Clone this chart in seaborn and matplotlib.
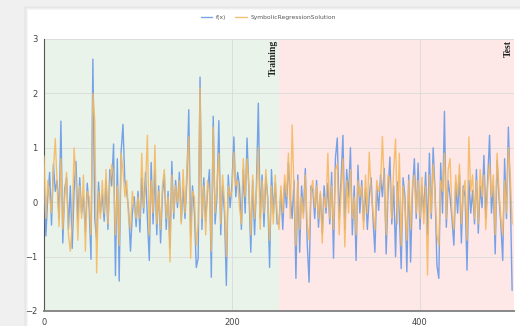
import numpy as np
import pandas as pd
import matplotlib
matplotlib.use("Agg")
import matplotlib.pyplot as plt
import seaborn as sns
from matplotlib.patches import Rectangle

# ---- data (step of 2 on the x index) ----
x_values = list(range(0, 500, 2))

fx = [
    0.35, -0.62, 0.1, 0.55, -0.42, 0.7, 0.2, 0.4, -0.3, 1.49, -0.75, 0.25, 0.45, -0.5, 0.3, -0.85, 0.2, 0.75, -0.35, 0.45, -0.2, 0.1, -0.55, 0.35, -0.1,
    -1.05, 2.63, -0.3, -0.7, 0.37, -0.2, 0.15, -0.35, 0.4, -0.5, 0.6, 0.3, 1.07, -1.35, 0.8, -1.45, 0.92, 1.43, 0.4, 0.2, -0.15, -0.9, -0.2, 0.1, -0.45,
    0.2, -0.55, 0.45, -0.2, 0.55, -0.3, -1.07, 0.73, -0.4, 0.6, -0.6, 0.3, -0.75, 0.15, 0.5, -0.5, 0.2, -0.85, 0.75, -0.3, 0.4, -0.1, 0.55, -0.35, 0.25,
    -0.3, 0.4, 1.7, -0.6, 0.3, -0.2, -1.2, -1.03, 2.3, -0.5, 0.45, -0.35, 0.2, 0.6, -1.38, 1.58, -0.4, 0.1, 1.5, -0.6, 0.3, -0.2, -1.53, 0.5, -0.1,
    0.35, 1.2, 0.1, 0.55, 0.3, -0.5, 0.6, -0.2, 1.18, 0.2, -0.92, 0.4, -0.6, 0.3, 1.82, -0.3, 0.5, -0.45, 0.46, 0.1, -1.2, 0.6, -0.2, 0.35, -0.4,
    -0.39, 0.2, -0.5, 0.35, -0.1, 0.73, 0.1, -0.3, 0.4, -1.4, 0.5, -0.92, 0.3, -0.2, 0.62, -0.75, -1.47, 0.3, 0.22, -0.3, 0.4, -0.46, 0.15, -0.57, 0.3,
    -0.2, 0.35, -0.4, 0.55, -1.03, 0.8, 1.18, -0.3, 0.4, 1.23, -0.5, 0.6, 0.1, 1.0, -0.6, 0.3, -1.07, 0.68, -0.2, 0.4, -0.35, 0.25, -0.5, 0.1, 0.45,
    -0.3, -0.92, 0.3, -0.15, 0.5, 0.1, 0.62, -0.95, 0.2, 0.83, -0.4, 0.3, -1.0, 0.37, -0.2, -1.22, 0.45, 0.1, -1.28, 0.5, -1.1, 0.2, 0.8, -0.3, 0.72,
    -0.5, 0.3, -0.2, 0.55, -0.6, 0.9, -0.3, 1.0, 0.2, -1.16, -1.4, 0.72, -0.2, 1.67, -0.46, 0.4, 0.1, -0.3, -0.79, 0.35, -0.2, 0.5, -0.75, 0.3, 0.1,
    -1.25, 0.4, -0.2, 0.22, -0.4, 0.6, -0.57, 0.3, -0.1, 0.86, -0.3, 0.4, 1.23, -0.2, 0.3, -0.95, 0.77, 0.1, -0.4, -1.07, 0.8, -0.3, 1.38, 0.2, -1.62,
]

solution = [
    0.85, -0.3, 0.4, 0.1, -0.2, 0.6, 1.17, 0.3, -0.45, 0.8, -0.5, 0.1, 0.55, -0.6, -0.9, -0.4, 1.0, 0.4, -0.7, 0.3, -0.3, 0.5, -0.9, 0.2, 0.1,
    -0.6, 2.0, 1.5, -1.3, 0.2, -0.3, 0.4, -0.2, 0.6, -0.4, 0.3, 0.7, 0.5, -0.6, 0.3, -0.8, 0.9, 0.6, 0.1, 0.4, -0.3, -0.5, 0.2, -0.1, -0.3,
    0.1, -0.3, 0.9, -0.1, 0.3, 1.23, -0.6, 0.4, -0.2, 1.05, -0.4, 0.2, -0.5, 0.3, 0.6, -0.3, 0.1, -1.1, 0.5, -0.2, 0.3, 0.0, 0.4, -0.4, 0.6,
    -0.2, 0.6, 1.2, -1.03, 0.2, 0.1, -0.8, -0.4, 2.1, -0.3, 0.3, -0.6, 0.4, 0.2, -0.9, 1.38, -0.2, 0.3, 0.9, -0.4, 0.5, 0.0, -1.0, 0.3, 0.1,
    0.2, 0.92, 0.3, 0.4, -0.1, -0.4, 0.8, 0.1, 0.8, 0.3, -0.6, 0.5, -0.3, 0.2, 1.0, -0.5, 0.4, -0.2, 0.6, 0.0, -0.7, 0.3, -0.4, 0.5, -0.2,
    -0.5, 0.3, -0.2, 0.5, 0.1, 0.9, -0.3, 1.42, 0.2, -0.8, 0.4, -0.5, 0.1, -0.3, 0.5, -0.4, -0.7, 0.2, 0.4, -0.1, 0.3, -0.3, 0.2, -0.75, 0.1,
    -0.1, 0.9, -0.3, 0.3, -0.5, 0.6, 0.7, -0.6, 0.2, 0.8, -0.82, 0.4, -0.2, 0.6, -0.3, 0.1, -0.6, 0.4, 0.1, 0.3, -0.5, 0.5, -0.2, 0.92, 0.2,
    -0.2, -0.5, 0.4, 0.2, 0.3, 1.21, 0.3, -0.6, 0.5, 0.4, -0.3, 0.6, 1.16, -0.4, 0.9, -0.8, 0.3, -0.1, -0.7, 0.4, -0.5, 0.3, 0.5, -0.2, 0.4,
    -0.3, 0.46, -0.4, 0.3, -1.34, 0.5, -0.2, 0.7, 0.1, -0.6, -0.8, 0.4, 0.2, 0.9, -0.3, 0.6, 0.8, -0.2, -0.5, 0.5, 0.1, 0.7, -0.4, 0.2, 0.4,
    -0.7, 1.2, 0.2, 0.5, -0.3, 0.4, -0.4, 0.6, 0.1, 0.5, -0.5, 0.3, 0.7, 0.1, 0.5, -0.6, 0.9, 0.2, -0.3, -0.6, 0.4, -0.2, 1.0, 0.5, -0.4,
]

series_names = ["f(x)", "SymbolicRegressionSolution"]
series_colors = ["#6497E6", "#F5B85E"]
x_ticks = [0, 200, 400]
y_ticks = [-2, -1, 0, 1, 2, 3]
partitions = [("Training", 0, 250, "#EAF3EA"), ("Test", 250, 500, "#FDE7E7")]

# ---- figure ----
sns.set_style("white")
plt.rcParams["font.family"] = ["DejaVu Sans"]

W, H = 520, 326
fig = plt.figure(figsize=(W / 100, H / 100), dpi=100)
fig.patch.set_facecolor("#F0F0F0")

# card with soft shadow (drawn behind the axes)
for i, c in enumerate(["#EAEAEA", "#E6E6E6", "#EEEEEE", "#F6F6F6"]):
    d = 4 - i
    fig.patches.append(Rectangle(((28 - d) / W, 0), 1, (H - 10 + d) / H,
                                 transform=fig.transFigure, facecolor=c,
                                 edgecolor="none", zorder=-5))
fig.patches.append(Rectangle((28 / W, 0), 1, (H - 10) / H,
                             transform=fig.transFigure, facecolor="white",
                             edgecolor="none", zorder=-4))

ax = fig.add_axes([44 / W, 1 - 311 / H, (514 - 44) / W, (311 - 39) / H])
ax.set_facecolor("none")
ax.set_zorder(2)

df = pd.DataFrame({"x": x_values + x_values,
                   "value": fx + solution,
                   "series": [series_names[0]] * len(fx) + [series_names[1]] * len(solution)})

for name, x0, x1, col in partitions:
    ax.axvspan(x0, x1, color=col, zorder=0, lw=0)

sns.lineplot(data=df, x="x", y="value", hue="series", palette=series_colors,
             hue_order=series_names, linewidth=1.0, alpha=0.88, ax=ax, zorder=3,
             legend=True)

ax.set_xlim(0, 500)
ax.set_ylim(-2, 3)
ax.set_xticks(x_ticks)
ax.set_yticks(y_ticks)
ax.set_xlabel("")
ax.set_ylabel("")
ax.grid(True, color="#DADADA", linewidth=0.6, zorder=1)
ax.set_axisbelow(True)

for s in ["top", "right"]:
    ax.spines[s].set_visible(False)
ax.spines["left"].set_color("#555555")
ax.spines["left"].set_linewidth(0.8)
ax.spines["bottom"].set_color("#888888")
ax.spines["bottom"].set_linewidth(1.4)
ax.tick_params(axis="both", labelsize=6, colors="#444444", length=3, width=0.6,
               pad=1.5, direction="out")
ax.tick_params(axis="x", pad=2)

for name, x0, x1, col in partitions:
    ax.text(x1 - 1, 2.98, name, rotation=90, ha="right", va="top",
            fontsize=7, fontweight="bold", family="Liberation Serif",
            color="#222222", zorder=5)

leg = ax.legend(loc="lower center", bbox_to_anchor=(0.477, 1.06), ncol=2,
                frameon=False, fontsize=4.3, handlelength=1.9, handletextpad=0.6,
                columnspacing=1.6, borderaxespad=0)
for t in leg.get_texts():
    t.set_color("#555555")

fig.savefig("out.png", dpi=100, facecolor=fig.get_facecolor())
